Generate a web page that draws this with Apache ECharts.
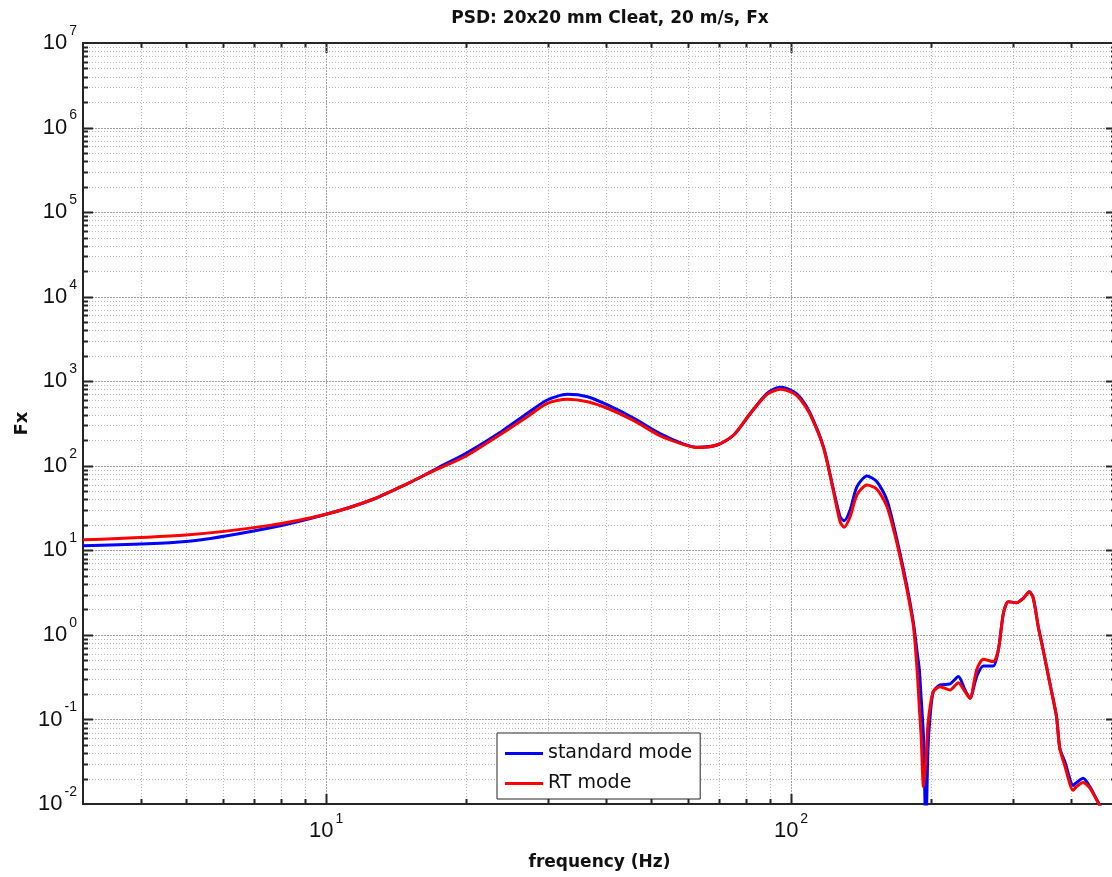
<!DOCTYPE html>
<html>
<head>
<meta charset="utf-8">
<script src="https://cdn.jsdelivr.net/npm/echarts@6/dist/echarts.min.js"></script>
<style>
  html, body { margin: 0; padding: 0; background: #fff; overflow: hidden; }
  #chart { width: 1116px; height: 877px; }
</style>
</head>
<body>
<div id="chart"></div>
<script>
// frequency (Hz)
const freq = [3, 5, 7.5, 10, 12.5, 15, 16.3, 17.5, 20, 23.8, 27.1, 29.9, 33, 36.5, 40.3, 45.9, 52.4, 58.8, 62.8, 69.3,
  75.3, 81.8, 88.8, 94.8, 101.2, 105, 109.9, 117.4, 123.4, 127.5, 130.1, 134, 138.6, 145.6, 153, 160.8, 169, 177.6, 183.4, 186.7,
  188.8, 190.5, 192.7, 195, 197, 199.1, 202.3, 209.2, 219.8, 229, 236.7, 242.6, 250.7, 259.2, 272.3, 279.2, 286.3, 293.2, 305.6, 316,
  325.5, 332, 340.2, 348.6, 360.3, 372.4, 378.5, 388, 404.5, 411, 424.8, 439.4, 461.5, 470];

const standardMode = [11.3, 12.7, 18.2, 26.7, 39.4, 62, 77.8, 96, 140.6, 253, 418, 600, 700, 656, 524, 365, 238, 180, 166, 176,
  231, 418, 719, 847, 754, 630, 418, 168, 52, 25, 22.4, 30, 56.6, 75.7, 64.8, 39.4, 13.3, 3.72, 1.37, 0.63,
  0.385, 0.178, 0.0627, 0.005, 0.0435, 0.108, 0.213, 0.256, 0.263, 0.321, 0.223, 0.178, 0.321, 0.43, 0.43, 0.664, 1.8, 2.47, 2.4, 2.71,
  3.24, 2.71, 1.25, 0.664, 0.268, 0.108, 0.0456, 0.0318, 0.0166, 0.0179, 0.0201, 0.016, 0.0096, 0.0085];

const rtMode = [13.3, 15.2, 19.6, 26.7, 39.4, 62, 77.8, 93, 130.6, 238, 381, 548, 613, 573, 479, 342, 225, 178, 164, 176,
  231, 418, 700, 803, 721, 600, 405, 165, 50, 21.8, 18.8, 25, 45.2, 59.3, 52.7, 32.9, 12.1, 3.4, 1.25, 0.385,
  0.137, 0.0627, 0.016, 0.0332, 0.086, 0.1416, 0.213, 0.244, 0.223, 0.272, 0.213, 0.178, 0.385, 0.515, 0.483, 0.664, 1.8, 2.47, 2.4, 2.71,
  3.24, 2.71, 1.25, 0.664, 0.268, 0.108, 0.0456, 0.0283, 0.0145, 0.016, 0.0179, 0.0154, 0.0096, 0.0085];

// axis limits and grid / tick positions
const xMin = 3, xMax = 500;
const yMin = 1e-2, yMax = 1e7;
const xMajor = [10, 100];
const xMinor = [4, 5, 6, 7, 8, 9, 20, 30, 40, 50, 60, 70, 80, 90, 200, 300, 400];
const yMajor = [1e-1, 1, 10, 1e2, 1e3, 1e4, 1e5, 1e6];
const yMinor = [];
for (let k = -2; k < 7; k++) {
  for (let m = 2; m <= 9; m++) yMinor.push(+(m * Math.pow(10, k)).toPrecision(3));
}

const isPow10 = (v) => Math.abs(Math.log10(v) - Math.round(Math.log10(v))) < 1e-6;
const powLabel = (v) => isPow10(v) ? '{b|10}{e|' + Math.round(Math.log10(v)) + '}' : '';

const labelRich = {
  b: { fontFamily: 'Liberation Sans', fontSize: 22, color: '#111' },
  e: { fontFamily: 'Liberation Sans', fontSize: 14, color: '#111', padding: [0, 0, 24, 2] }
};

// [x, y, kind]: kind 0 = vertical minor, 1 = vertical major, 2 = horizontal minor, 3 = horizontal major
const gridData = [];
xMinor.forEach(v => gridData.push([v, 1, 0]));
xMajor.forEach(v => gridData.push([v, 1, 1]));
yMinor.forEach(v => gridData.push([10, v, 2]));
yMajor.forEach(v => gridData.push([10, v, 3]));

const tickColor = '#262626';

function renderGrid(params, api) {
  const cs = params.coordSys;
  const kind = api.value(2);
  const major = kind === 1 || kind === 3;
  const tl = major ? 10 : 5;
  const gridStyle = { stroke: major ? '#a0a0a0' : '#b8b8b8', lineWidth: 1, lineDash: major ? [2, 1] : [1, 2] };
  const tickStyle = { stroke: tickColor, lineWidth: 2 };
  const children = [];
  if (kind < 2) {
    const x = Math.round(api.coord([api.value(0), 1])[0]) + 0.5;
    children.push({ type: 'line', shape: { x1: x, y1: cs.y, x2: x, y2: cs.y + cs.height }, style: gridStyle });
    children.push({ type: 'line', shape: { x1: x, y1: cs.y + cs.height, x2: x, y2: cs.y + cs.height - tl }, style: tickStyle });
    children.push({ type: 'line', shape: { x1: x, y1: cs.y, x2: x, y2: cs.y + tl }, style: tickStyle });
  } else {
    const y = Math.round(api.coord([10, api.value(1)])[1]) + 0.5;
    children.push({ type: 'line', shape: { x1: cs.x, y1: y, x2: cs.x + cs.width, y2: y }, style: gridStyle });
    children.push({ type: 'line', shape: { x1: cs.x, y1: y, x2: cs.x + tl, y2: y }, style: tickStyle });
    children.push({ type: 'line', shape: { x1: cs.x + cs.width, y1: y, x2: cs.x + cs.width - tl, y2: y }, style: tickStyle });
  }
  return { type: 'group', children: children };
}

const chart = echarts.init(document.getElementById('chart'));

chart.setOption({
  animation: false,
  title: {
    text: 'PSD: 20x20 mm Cleat, 20 m/s, Fx',
    left: 605,
    top: 5,
    textAlign: 'center',
    textStyle: { fontFamily: 'DejaVu Sans', fontSize: 17, fontWeight: 'bold', color: '#111' }
  },
  grid: {
    left: 83, top: 43, right: 0, bottom: 73,
    show: true, borderColor: tickColor, borderWidth: 2, backgroundColor: '#fff'
  },
  legend: {
    orient: 'vertical',
    left: 497, top: 733,
    backgroundColor: '#fff',
    borderColor: tickColor, borderWidth: 1,
    padding: [11, 8, 6, 8],
    itemGap: 11,
    itemWidth: 38, itemHeight: 3,
    icon: 'rect',
    textStyle: { fontFamily: 'DejaVu Sans', fontSize: 19, color: '#111' },
    data: ['standard mode', 'RT mode']
  },
  xAxis: {
    type: 'log', logBase: 10, min: xMin, max: xMax,
    name: 'frequency (Hz)', nameLocation: 'middle', nameGap: 50, nameMoveOverlap: false,
    nameTextStyle: { fontFamily: 'DejaVu Sans', fontSize: 17, fontWeight: 'bold', color: '#111' },
    axisLine: { show: false }, axisTick: { show: false }, splitLine: { show: false },
    axisLabel: { formatter: powLabel, rich: labelRich, margin: 8, showMinLabel: false, showMaxLabel: false }
  },
  yAxis: {
    type: 'log', logBase: 10, min: yMin, max: yMax, splitNumber: 9,
    name: 'Fx', nameLocation: 'middle', nameGap: 52, nameMoveOverlap: false,
    nameTextStyle: { fontFamily: 'DejaVu Sans', fontSize: 18, fontWeight: 'bold', color: '#111' },
    axisLine: { show: false }, axisTick: { show: false }, splitLine: { show: false },
    axisLabel: { formatter: powLabel, rich: labelRich, margin: 6 }
  },
  series: [
    {
      type: 'custom', name: 'grid', silent: true, z: 1,
      renderItem: renderGrid,
      encode: { x: 0, y: 1 },
      data: gridData
    },
    {
      type: 'line', name: 'standard mode', z: 3,
      data: freq.map((f, i) => [f, standardMode[i]]),
      showSymbol: false, smooth: 0.25, clip: true,
      lineStyle: { color: '#0000ff', width: 3 }, itemStyle: { color: '#0000ff' }
    },
    {
      type: 'line', name: 'RT mode', z: 4,
      data: freq.map((f, i) => [f, rtMode[i]]),
      showSymbol: false, smooth: 0.25, clip: true,
      lineStyle: { color: '#ff0000', width: 3 }, itemStyle: { color: '#ff0000' }
    }
  ]
});
</script>
</body>
</html>
